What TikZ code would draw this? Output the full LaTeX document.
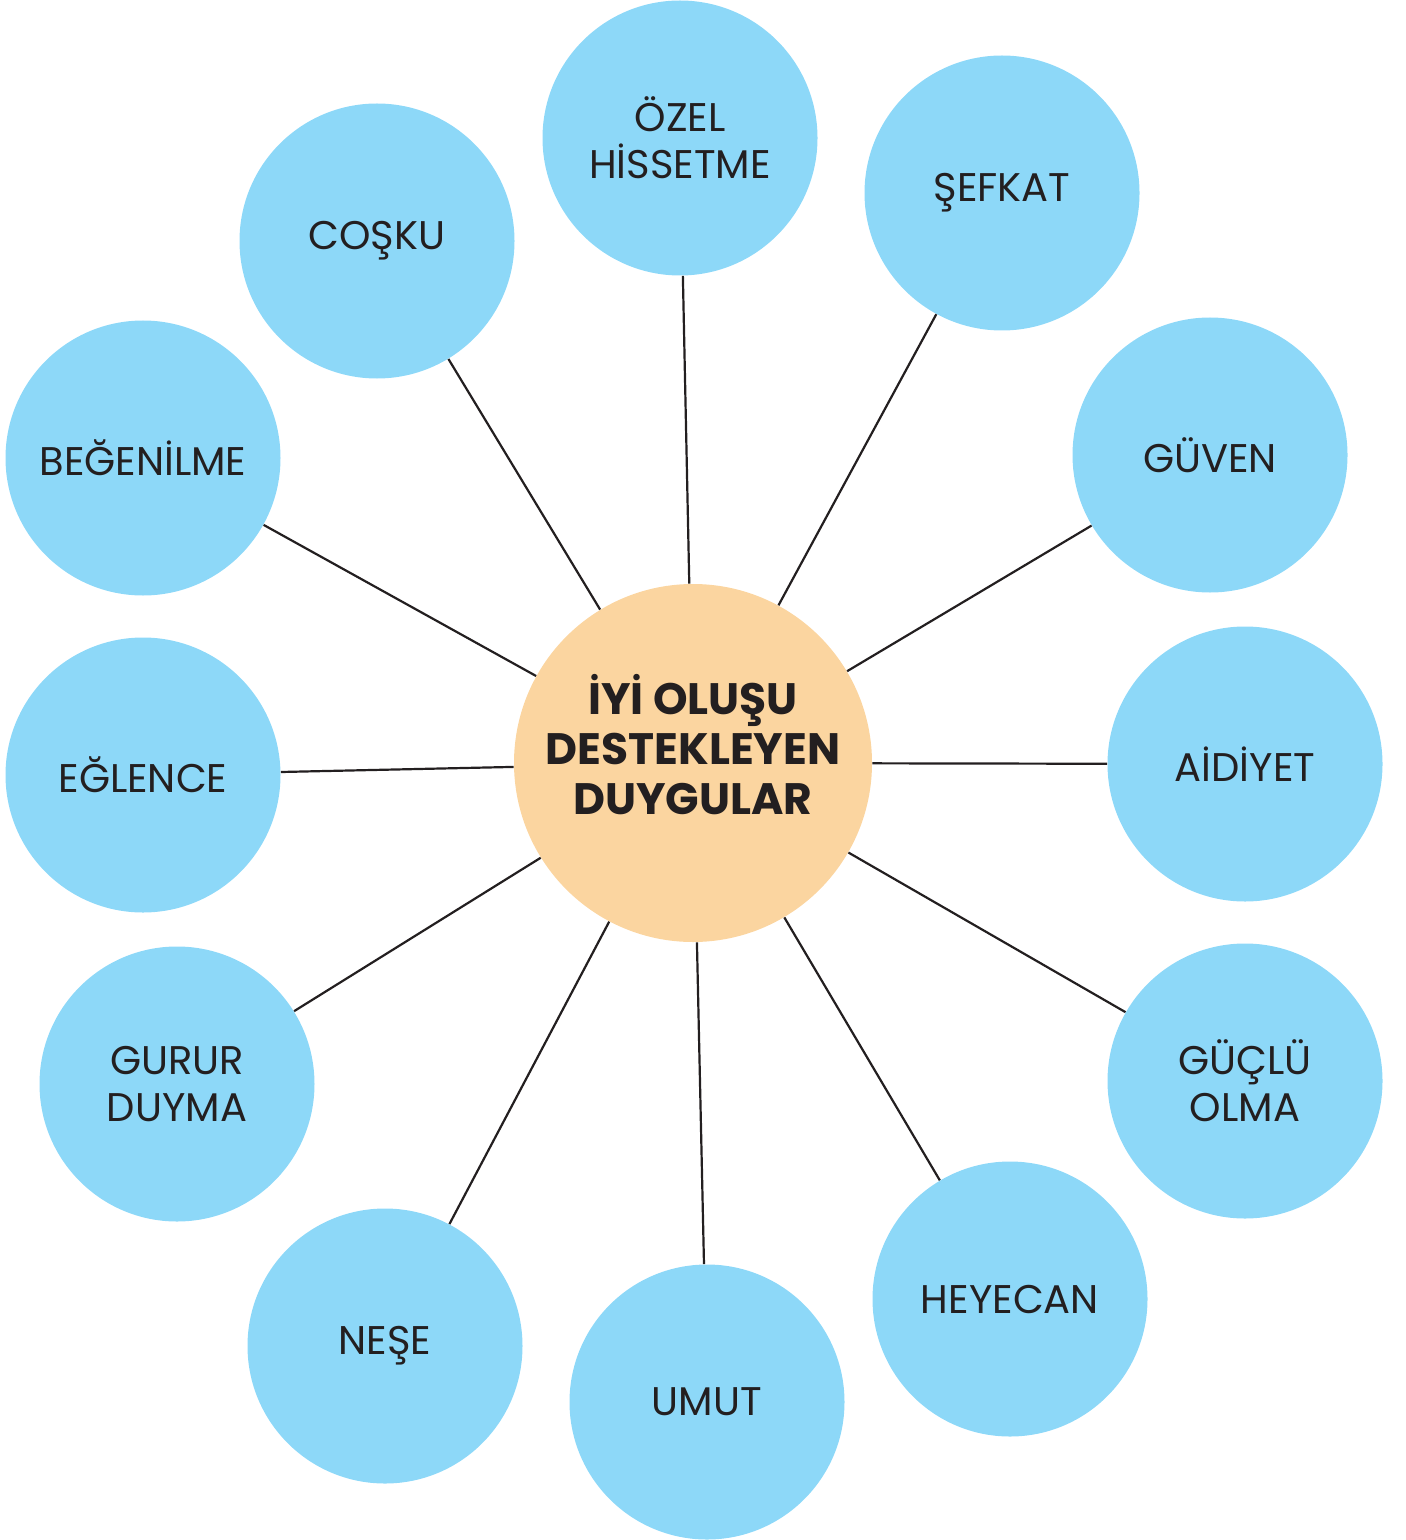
\documentclass[tikz,border=0pt]{standalone}
\usepackage{fontspec}
\setmainfont{Poppins}
\definecolor{bubble}{HTML}{8DD8F8}
\definecolor{hub}{HTML}{FBD5A0}
\definecolor{ink}{HTML}{231F20}
\begin{document}
\begin{tikzpicture}[x=0.5pt,y=-0.5pt,
  leaf/.style={circle,fill=bubble,minimum size=137.5pt,inner sep=0pt,align=center,text=ink,
    font=\fontsize{20}{23.5}\selectfont},
  center/.style={circle,fill=hub,minimum size=179pt,inner sep=0pt},
  hubtext/.style={align=center,text=ink,inner sep=0pt,
    font=\fontsize{22}{25}\selectfont\bfseries},
  link/.style={draw=ink,line width=1.1pt}]
\useasboundingbox (0,0) rectangle (1406,1540);
\node[center] (c) at (693,763) {};
\node[hubtext] (ct) at (693,745) {İYİ OLUŞU\\DESTEKLEYEN\\DUYGULAR};
\node[leaf] (ozel) at (680,138) {ÖZEL\\HİSSETME};
\node[leaf] (sefkat) at (1002,193) {ŞEFKAT};
\node[leaf] (cosku) at (377,241) {COŞKU};
\node[leaf] (guven) at (1210,455) {GÜVEN};
\node[leaf] (begen) at (143,458) {BEĞENİLME};
\node[leaf] (aidiyet) at (1245,764) {AİDİYET};
\node[leaf] (eglence) at (143,775) {EĞLENCE};
\node[leaf] (guclu) at (1245,1081) {GÜÇLÜ\\OLMA};
\node[leaf] (gurur) at (177,1084) {GURUR\\DUYMA};
\node[leaf] (heyecan) at (1010,1299) {HEYECAN};
\node[leaf] (nese) at (385,1346) {NEŞE};
\node[leaf] (umut) at (707,1402) {UMUT};
\foreach \n in {ozel,sefkat,cosku,guven,begen,aidiyet,eglence,guclu,gurur,heyecan,nese,umut}
  \draw[link] (c) -- (\n);
\end{tikzpicture}
\end{document}
